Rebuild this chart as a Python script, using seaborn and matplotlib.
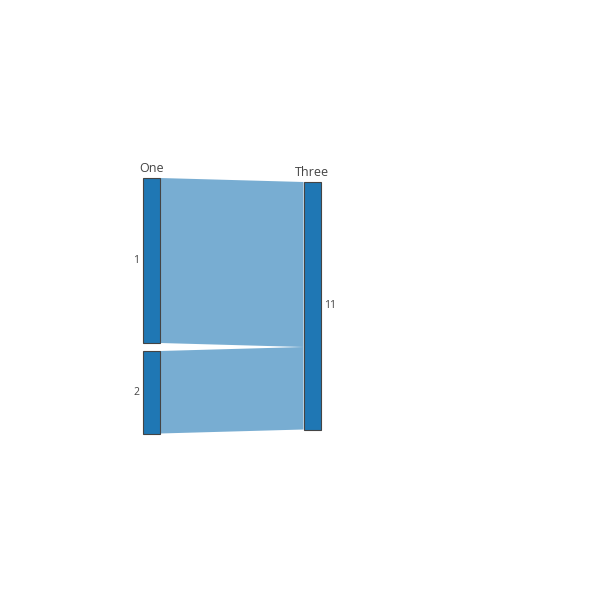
import numpy as np
import pandas as pd
import matplotlib.pyplot as plt
import seaborn as sns
from matplotlib.patches import Rectangle, Polygon

# sankey data
node_names = ["One", "Two", "Three"]
node_labels = ["1", "2", "11"]
node_column = [0, 0, 1]
link_source = [0, 1]
link_target = [2, 2]
link_value = [2, 1]

sns.set_style("white")
plt.rcParams['font.family'] = ['Open Sans', 'DejaVu Sans']

node_color = sns.color_palette("tab10")[0]
text_color = "#444444"

links = pd.DataFrame({"source": link_source, "target": link_target, "value": link_value})
out_val = links.groupby("source")["value"].sum()
in_val = links.groupby("target")["value"].sum()
node_val = [max(out_val.get(i, 0), in_val.get(i, 0)) for i in range(len(node_names))]

# layout in pixel space
col_x = {0: 143, 1: 303.5}
node_w = 17
scale = 82.5
gap = 8
mid = 305.75

node_top = {}
for c in sorted(set(node_column)):
    idx = [i for i in range(len(node_names)) if node_column[i] == c]
    total = sum(node_val[i] for i in idx) * scale + gap * (len(idx) - 1)
    y = mid - total / 2
    for i in idx:
        node_top[i] = y
        y += node_val[i] * scale + gap

fig = plt.figure(figsize=(5.92, 6.02), dpi=100)
ax = fig.add_axes([0, 0, 1, 1])
ax.set_xlim(0, 592)
ax.set_ylim(602, 0)
ax.axis("off")

# links
src_off = {i: 0.0 for i in range(len(node_names))}
tgt_off = {i: 0.0 for i in range(len(node_names))}
for _, r in links.iterrows():
    s, t, v = int(r.source), int(r.target), r.value
    h = v * scale
    x0 = col_x[node_column[s]] + node_w
    x1 = col_x[node_column[t]]
    y0 = node_top[s] + src_off[s]
    y1 = node_top[t] + tgt_off[t]
    src_off[s] += h
    tgt_off[t] += h
    ax.add_patch(Polygon([(x0, y0), (x1, y1), (x1, y1 + h), (x0, y0 + h)],
                         closed=True, facecolor=node_color, alpha=0.6,
                         edgecolor="none"))

# nodes
for i, name in enumerate(node_names):
    x = col_x[node_column[i]]
    y = node_top[i]
    h = node_val[i] * scale
    ax.add_patch(Rectangle((x, y), node_w, h, facecolor=node_color,
                           edgecolor=text_color, linewidth=0.8))
    if node_column[i] == 0:
        ax.text(x - 4, y + h / 2, node_labels[i], ha="right", va="center",
                fontsize=7.5, color=text_color)
    else:
        ax.text(x + node_w + 4, y + h / 2, node_labels[i], ha="left", va="center",
                fontsize=7.5, color=text_color)

# titles above first node of each column
ax.text(col_x[0] + node_w / 2, node_top[0] - 3, node_names[0], ha="center",
        va="bottom", fontsize=9, color=text_color)
ax.text(col_x[1] + node_w / 2, node_top[2] - 3, node_names[2], ha="center",
        va="bottom", fontsize=9, color=text_color)

fig.savefig("out.png", dpi=100)
